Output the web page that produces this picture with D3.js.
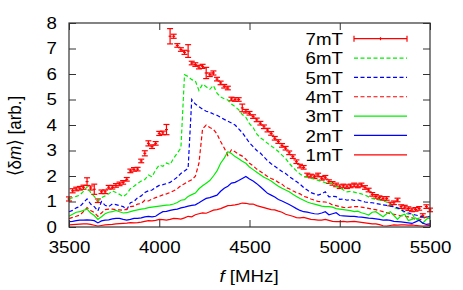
<!DOCTYPE html>
<meta charset="utf-8">
<style>
    body { margin: 0; background: #fff; }
    svg text { font-family: 'Liberation Sans', Arial, sans-serif; fill: #000; font-size: 17px; }
    .legend text { text-anchor: end; }
</style>
<svg width="463" height="290"></svg>
<script src="https://d3js.org/d3.v7.min.js"></script>
<script>
    // measurement grid [MHz]
    var freq = d3.range(3500, 5501, 20);

    var m7 = [1.1,1.42,1.49,1.52,1.56, 1.78,1.53,1.48,1.03,1.38, 1.38,1.56,1.56,1.63,1.69, 1.75,1.87,2.2,2.26,2.27,
        2.59,2.89,3.28,3.15,3.28, 3.67,3.69,3.82,7.48,7.48, 7.12,6.96,6.85,6.9,6.43, 6.37,6.27,6.3,6.04,5.97,
        6.04,5.8,5.65,5.52,5.45, 5.02,5.0,5.0,4.67,4.54, 4.46,4.33,4.2,4.07,3.93, 3.8,3.67,3.48,3.35,3.2,
        3.09,2.91,2.76,2.56,2.39, 2.34,2.04,2.0,1.97,2.04, 1.91,1.95,1.78,1.71,1.65, 1.58,1.61,1.58,1.61,1.65,
        1.61,1.65,1.55,1.45,1.28, 1.2,1.15,1.12,1.12,0.9, 0.95,1.06,0.8,0.78,0.72, 0.67,0.69,0.73,0.45,0.8, 0.67];
    var err7 = [0.08,0.08,0.07,0.07,0.08, 0.15,0.08,0.2,0.07,0.07, 0.07,0.07,0.07,0.07,0.07, 0.07,0.07,0.07,0.07,0.07,
        0.07,0.1,0.1,0.07,0.07, 0.08,0.07,0.2,0.3,0.08, 0.07,0.07,0.08,0.25,0.07, 0.07,0.07,0.08,0.22,0.07,
        0.08,0.07,0.07,0.07,0.07, 0.07,0.07,0.07,0.15,0.07, 0.07,0.07,0.07,0.07,0.07, 0.07,0.07,0.07,0.07,0.07,
        0.07,0.07,0.07,0.07,0.07, 0.07,0.07,0.07,0.07,0.07, 0.07,0.07,0.07,0.07,0.07, 0.07,0.07,0.07,0.07,0.07,
        0.07,0.07,0.07,0.07,0.07, 0.07,0.07,0.07,0.07,0.07, 0.07,0.07,0.07,0.07,0.07, 0.07,0.07,0.07,0.07,0.07, 0.07];
    var m6 = [1.1,1.15,1.2,1.25,1.4, 1.58,1.35,1.2,1.03,1.15, 1.22,1.3,1.42,1.35,1.28, 1.19,1.3,1.5,1.6,1.71,
        1.8,1.86,2.04,1.97,2.24, 2.43,2.38,2.51,2.45,2.7, 2.9,3.1,5.97,5.9,5.78, 5.73,5.35,5.6,5.5,5.4,
        5.55,5.25,5.1,5.03,4.98, 4.82,4.72,4.6,4.41,4.3, 4.05,3.9,3.65,3.5,3.4, 3.28,3.18,3.08,2.96,2.82,
        2.69,2.5,2.34,2.2,2.08, 1.98,1.95,1.92,1.88,1.83, 1.78,1.74,1.72,1.69,1.6, 1.55,1.45,1.38,1.4,1.37,
        1.33,1.3,1.25,1.18,1.12, 1.08,1.06,1.02,0.98,0.85, 0.75,0.72,0.67,0.55,0.5, 0.52,0.3,0.35,0.4,0.36, 0.34];
    var m5 = [0.6,0.65,0.75,0.8,0.95, 1.1,0.9,0.8,0.63,1.0, 0.85,0.8,0.9,0.88,0.84, 0.8,0.68,0.95,1.0,1.15,
        1.22,1.35,1.42,1.45,1.55, 1.63,1.66,1.7,1.75,1.85, 1.95,2.1,2.2,2.3,5.0, 4.82,4.72,4.62,4.54,4.5,
        4.43,4.38,4.3,4.22,4.15, 4.08,4.0,3.85,3.7,3.5, 3.3,3.15,3.0,2.9,2.75, 2.6,2.48,2.38,2.28,2.18,
        2.1,1.98,1.88,1.78,1.68, 1.55,1.45,1.35,1.3,1.25, 1.3,1.38,1.18,1.2,1.19, 1.08,1.1,1.05,1.08,1.04,
        1.06,1.02,0.98,0.96,0.95, 0.92,0.9,0.87,0.85,0.82, 0.8,0.75,0.68,0.6,0.55, 0.5,0.47,0.44,0.4,0.38, 0.42];
    var m4 = [0.33,0.38,0.42,0.47,0.6, 0.76,0.65,0.57,0.42,0.55, 0.68,0.7,0.7,0.68,0.67, 0.66,0.7,0.8,0.82,0.9,
        0.92,1.05,1.02,1.1,1.15, 1.2,1.26,1.3,1.35,1.42, 1.5,1.62,1.7,1.78,1.85, 1.99,2.5,3.85,4.0,3.9,
        3.83,3.65,3.35,3.1,2.8, 3.03,2.95,2.85,2.78,2.66, 2.5,2.4,2.27,2.18,2.08, 1.98,1.9,1.84,1.75,1.68,
        1.55,1.5,1.42,1.35,1.3, 1.2,1.16,1.1,1.05,1.0, 0.99,0.98,0.95,0.86,0.84, 0.8,0.77,0.76,0.78,0.8,
        0.8,0.78,0.76,0.73,0.7, 0.68,0.64,0.6,0.56,0.52, 0.5,0.47,0.44,0.42,0.4, 0.36,0.3,0.27,0.32,0.4, 0.35];
    var m3 = [0.42,0.5,0.58,0.6,0.65, 0.7,0.55,0.45,0.3,0.4, 0.52,0.58,0.6,0.65,0.6, 0.55,0.56,0.6,0.64,0.67,
        0.7,0.72,0.76,0.78,0.8, 0.82,0.84,0.86,0.87,0.9, 0.96,1.05,1.07,1.2,1.27, 1.33,1.5,1.62,1.72,1.82,
        2.0,2.2,2.5,2.7,2.95, 2.88,2.76,2.68,2.58,2.5, 2.35,2.25,2.15,2.05,1.95, 1.88,1.8,1.7,1.6,1.52,
        1.45,1.38,1.28,1.2,1.12, 1.05,0.98,0.93,0.9,0.86, 0.82,0.8,0.8,0.78,0.72, 0.7,0.68,0.66,0.64,0.6,
        0.62,0.56,0.52,0.47,0.58, 0.6,0.5,0.4,0.52,0.6, 0.45,0.3,0.45,0.5,0.25, 0.3,0.36,0.25,0.15,0.3, 0.38];
    var m2 = [0.21,0.22,0.25,0.27,0.27, 0.28,0.27,0.25,0.16,0.24, 0.27,0.28,0.32,0.34,0.34, 0.3,0.27,0.3,0.34,0.34,
        0.36,0.4,0.42,0.4,0.42, 0.52,0.6,0.61,0.65,0.68, 0.7,0.75,0.78,0.82,0.85, 0.87,0.95,1.04,1.12,1.15,
        1.2,1.25,1.4,1.52,1.6, 1.72,1.75,1.82,1.9,1.98, 1.88,1.8,1.7,1.58,1.45, 1.32,1.25,1.18,1.08,1.02,
        0.95,0.88,0.8,0.72,0.65, 0.6,0.58,0.55,0.52,0.51, 0.55,0.6,0.48,0.52,0.56, 0.45,0.44,0.43,0.42,0.42,
        0.4,0.39,0.37,0.35,0.34, 0.32,0.3,0.27,0.28,0.26, 0.22,0.21,0.2,0.18,0.16, 0.14,0.2,0.27,0.15,0.1, 0.12];
    var m1 = [0.08,0.09,0.1,0.11,0.12, 0.12,0.1,0.07,0.04,0.06, 0.08,0.09,0.1,0.12,0.13, 0.14,0.15,0.17,0.16,0.17,
        0.19,0.22,0.25,0.24,0.26, 0.3,0.29,0.27,0.3,0.34, 0.33,0.31,0.36,0.42,0.4, 0.48,0.52,0.55,0.54,0.6,
        0.66,0.68,0.72,0.78,0.84, 0.85,0.87,0.9,0.94,0.93, 0.9,0.9,0.84,0.8,0.76, 0.72,0.68,0.67,0.62,0.58,
        0.5,0.46,0.42,0.37,0.36, 0.38,0.34,0.3,0.29,0.27, 0.27,0.3,0.26,0.22,0.21, 0.21,0.22,0.2,0.21,0.22,
        0.2,0.18,0.16,0.14,0.12, 0.12,0.09,0.05,0.04,0.06, 0.08,0.07,0.08,0.08,0.07, 0.08,0.06,0.05,0.04,0.05, 0.06];

    var xTicks = [3500, 4000, 4500, 5000, 5500];
    var yTicks = [0, 1, 2, 3, 4, 5, 6, 7, 8];

    var lines = [
        { name: "6mT", values: m6, color: "#00ee00", dash: "4,2.5" },
        { name: "5mT", values: m5, color: "#0000ff", dash: "4,2.5" },
        { name: "4mT", values: m4, color: "#ff0000", dash: "4,2.5" },
        { name: "3mT", values: m3, color: "#00ee00", dash: null },
        { name: "2mT", values: m2, color: "#0000ff", dash: null },
        { name: "1mT", values: m1, color: "#ff0000", dash: null }
    ];

    var svg = d3.select("svg");
    var pLeft = 69, pRight = 430, pTop = 23, pBottom = 227;
    var stretch = "scale(1.1,1)";   // text in the original is a bit wide

    var x = d3.scaleLinear().domain([3500, 5500]).range([pLeft, pRight]);
    var y = d3.scaleLinear().domain([0, 8]).range([pBottom, pTop]);

    var plot = svg.append("g");

    // error bars for 7mT
    var eb = plot.append("g")
        .attr("stroke", "#ff0000")
        .attr("stroke-width", 1.2)
        .selectAll("g")
        .data(freq.map(function(f, i) { return { f: f, v: m7[i], e: err7[i] }; }))
        .enter().append("g");
    eb.append("line")
        .attr("x1", function(d) { return x(d.f); })
        .attr("x2", function(d) { return x(d.f); })
        .attr("y1", function(d) { return y(d.v - d.e); })
        .attr("y2", function(d) { return y(d.v + d.e); });
    eb.append("line")
        .attr("x1", function(d) { return x(d.f) - 3; })
        .attr("x2", function(d) { return x(d.f) + 3; })
        .attr("y1", function(d) { return y(d.v - d.e); })
        .attr("y2", function(d) { return y(d.v - d.e); });
    eb.append("line")
        .attr("x1", function(d) { return x(d.f) - 3; })
        .attr("x2", function(d) { return x(d.f) + 3; })
        .attr("y1", function(d) { return y(d.v + d.e); })
        .attr("y2", function(d) { return y(d.v + d.e); });
    eb.append("line")
        .attr("x1", function(d) { return x(d.f) - 1.5; })
        .attr("x2", function(d) { return x(d.f) + 1.5; })
        .attr("y1", function(d) { return y(d.v); })
        .attr("y2", function(d) { return y(d.v); });

    var line = d3.line()
        .x(function(d, i) { return x(freq[i]); })
        .y(function(d) { return y(d); });

    plot.selectAll("path.series")
        .data(lines)
        .enter().append("path")
        .attr("class", "series")
        .attr("fill", "none")
        .attr("stroke", function(d) { return d.color; })
        .attr("stroke-width", 1.2)
        .attr("stroke-dasharray", function(d) { return d.dash; })
        .attr("d", function(d) { return line(d.values); });

    // axes, ticks pointing inward, mirrored on top/right
    svg.append("g")
        .attr("transform", "translate(" + pLeft + ",0)")
        .call(d3.axisLeft(y).tickValues(yTicks).tickSize(-7).tickPadding(11).tickFormat(d3.format("d")));
    svg.append("g")
        .attr("transform", "translate(" + pRight + ",0)")
        .call(d3.axisRight(y).tickValues(yTicks).tickSize(-7).tickFormat(""));
    svg.append("g")
        .attr("transform", "translate(0," + pBottom + ")")
        .call(d3.axisBottom(x).tickValues(xTicks).tickSize(-7).tickPadding(14).tickFormat(d3.format("d")));
    svg.append("g")
        .attr("transform", "translate(0," + pTop + ")")
        .call(d3.axisTop(x).tickValues(xTicks).tickSize(-7).tickFormat(""));
    svg.selectAll(".domain").remove();
    svg.selectAll(".tick line").attr("stroke", "#333");
    svg.selectAll(".tick text")
        .attr("font-family", null).attr("font-size", null)
        .attr("transform", stretch);

    svg.append("rect")
        .attr("x", pLeft).attr("y", pTop)
        .attr("width", pRight - pLeft).attr("height", pBottom - pTop)
        .attr("fill", "none")
        .attr("stroke", "#333")
        .attr("stroke-width", 1.2);

    // axis labels
    var yl = svg.append("text")
        .attr("transform", "translate(21,136) " + stretch + " rotate(-90)")
        .attr("text-anchor", "middle");
    yl.append("tspan").text("\u27E8\u03B4");
    yl.append("tspan").attr("font-style", "italic").text("m");
    yl.append("tspan").text("\u27E9 [arb.]");

    var xl = svg.append("text")
        .attr("transform", "translate(249,281.5) " + stretch)
        .attr("text-anchor", "middle");
    xl.append("tspan").attr("font-style", "italic").text("f");
    xl.append("tspan").text(" [MHz]");

    // legend
    var legendItems = [{ name: "7mT", color: "#ff0000", dash: null, err: true }].concat(lines);
    var lg = svg.append("g").attr("class", "legend");
    var row = lg.selectAll("g")
        .data(legendItems)
        .enter().append("g")
        .attr("transform", function(d, i) { return "translate(0," + (38.7 + i * 19.35) + ")"; });
    row.append("text")
        .attr("transform", "translate(343,6.2) " + stretch)
        .text(function(d) { return d.name; });
    row.append("line")
        .attr("x1", 354).attr("x2", 407)
        .attr("stroke", function(d) { return d.color; })
        .attr("stroke-width", 1.2)
        .attr("stroke-dasharray", function(d) { return d.dash; });
    row.filter(function(d) { return d.err; })
        .selectAll("line.cap")
        .data([354, 380.5, 407])
        .enter().append("line")
        .attr("class", "cap")
        .attr("x1", function(d) { return d; })
        .attr("x2", function(d) { return d; })
        .attr("y1", function(d, i) { return i === 1 ? -1.5 : -3; })
        .attr("y2", function(d, i) { return i === 1 ? 1.5 : 3; })
        .attr("stroke", "#ff0000")
        .attr("stroke-width", 1.2);
</script>
